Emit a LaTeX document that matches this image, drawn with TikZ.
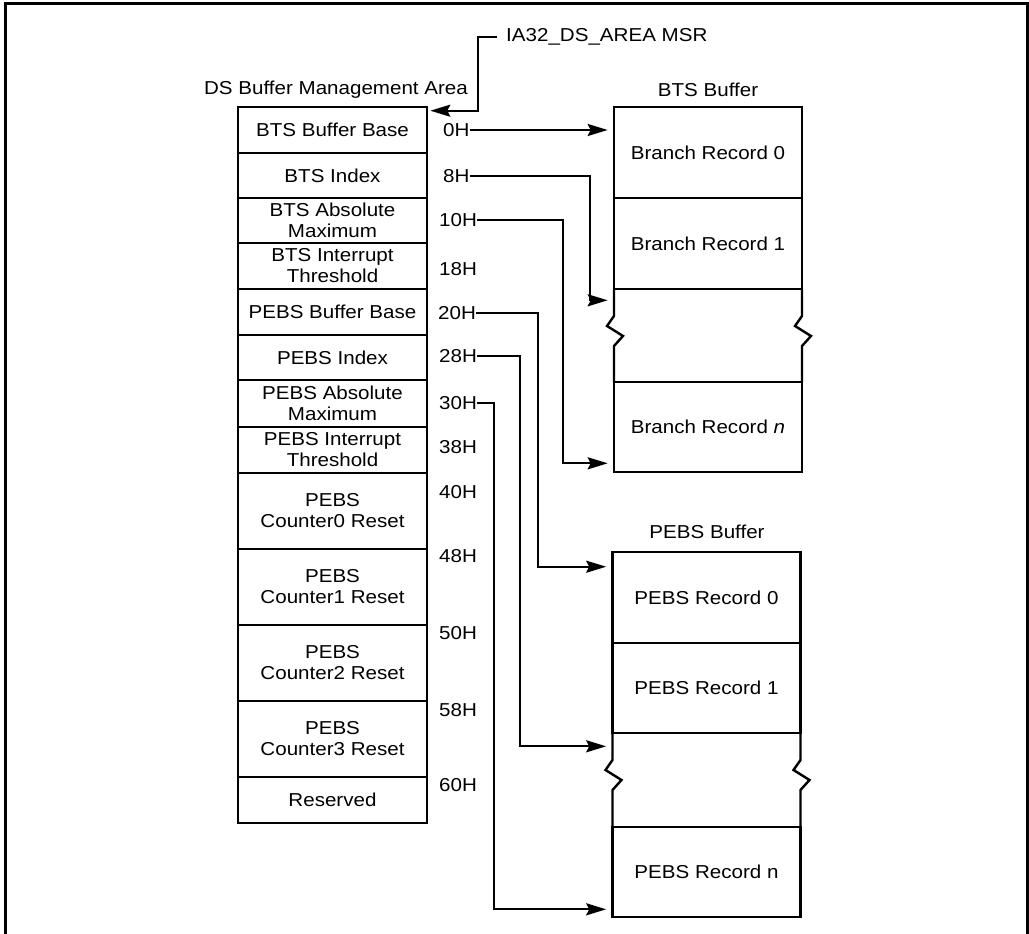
\documentclass[tikz,border=0pt]{standalone}
\usepackage{fontspec}
\setmainfont[FakeStretch=1.1]{Liberation Sans}
\usetikzlibrary{arrows.meta}
\newcommand{\brokenside}[3]{\draw[side] (#1,#2) -- ++(0,27) -- ++(-7,10) -- ++(16,10) -- ++(-9,10) -- (#1,#3);}

\begin{document}
\begin{tikzpicture}[x=1pt,y=-1pt,>={Stealth[length=20pt,width=12pt,inset=3pt]},
  every node/.style={font=\fontsize{18.7}{21}\selectfont}]
  \tikzset{cell/.style={draw,line width=2.6pt,minimum width=189pt,minimum height=#1,inner sep=1pt,align=center}}
  \tikzset{record/.style={draw,line width=2.6pt,minimum width=188pt,minimum height=#1}}
  \tikzset{offset/.style={anchor=west,inner sep=0pt}}
  \tikzset{link/.style={->,line width=2.3pt,shorten >=5pt}}
  \tikzset{side/.style={line width=2.4pt}}
  \useasboundingbox (0,0) rectangle (1029,934);
  \draw[line width=3pt] (5,934) -- (5,4) -- (1027,4) -- (1027,934);
  % management area
  \node (dstitle) at (336,90) {DS Buffer Management Area};
  \node[cell=46pt] (btsbase) at (332.5,130) {BTS Buffer Base};
  \node[cell=45pt] (btsindex) at (332.5,175.5) {BTS Index};
  \node[cell=45pt] (btsmax) at (332.5,220.5) {BTS Absolute\\Maximum};
  \node[cell=46pt] (btsthr) at (332.5,266) {BTS Interrupt\\Threshold};
  \node[cell=46pt] (pebsbase) at (332.5,312) {PEBS Buffer Base};
  \node[cell=45pt] (pebsindex) at (332.5,357.5) {PEBS Index};
  \node[cell=47pt] (pebsmax) at (332.5,403.5) {PEBS Absolute\\Maximum};
  \node[cell=46pt] (pebsthr) at (332.5,450) {PEBS Interrupt\\Threshold};
  \node[cell=76pt] (reset0) at (332.5,511) {PEBS\\Counter0 Reset};
  \node[cell=76pt] (reset1) at (332.5,587) {PEBS\\Counter1 Reset};
  \node[cell=76pt] (reset2) at (332.5,663) {PEBS\\Counter2 Reset};
  \node[cell=76pt] (reset3) at (332.5,739) {PEBS\\Counter3 Reset};
  \node[cell=46pt] (reserved) at (332.5,800) {Reserved};
  % offsets
  \node[offset] (o0) at (443,130) {0H};
  \node[offset] (o8) at (443,176) {8H};
  \node[offset] (o10) at (439,220) {10H};
  \node[offset] (o18) at (439,269) {18H};
  \node[offset] (o20) at (438,313) {20H};
  \node[offset] (o28) at (439,356) {28H};
  \node[offset] (o30) at (439,403) {30H};
  \node[offset] (o38) at (439,447) {38H};
  \node[offset] (o40) at (439,492) {40H};
  \node[offset] (o48) at (439,556) {48H};
  \node[offset] (o50) at (439,633) {50H};
  \node[offset] (o58) at (439,710) {58H};
  \node[offset] (o60) at (439,785) {60H};
  % msr
  \node[offset] (msr) at (506,37) {IA32\_DS\_AREA MSR};
  \coordinate (msrptr) at ([yshift=-5pt]btsbase.north east);
  \draw[link,shorten >=2pt] ([xshift=-9pt]msr.west) -| ([xshift=50pt]msrptr) -- (msrptr);
  % bts buffer
  \node (btstitle) at (708,90) {BTS Buffer};
  \node[record=91pt] (brec0) at (708,152.5) {Branch Record 0};
  \node[record=91pt] (brec1) at (708,243.5) {Branch Record 1};
  \node[record=90pt] (brecn) at (708,427) {Branch Record \textit{n}};
  \brokenside{614}{289}{382}
  \brokenside{802}{289}{382}
  % pebs buffer
  \node (pebstitle) at (707,532) {PEBS Buffer};
  \node[record=91pt] (prec0) at (706.5,597.5) {PEBS Record 0};
  \node[record=90pt] (prec1) at (706.5,688) {PEBS Record 1};
  \node[record=90pt] (precn) at (706.5,872) {PEBS Record n};
  \brokenside{612.5}{733}{827}
  \brokenside{800.5}{733}{827}
  % pointers
  \coordinate (btsgap) at ([yshift=-10pt]brec1.south west);
  \coordinate (btsend) at ([yshift=10pt]brecn.south west);
  \coordinate (pebstop) at ([yshift=-16pt]prec0.north west);
  \coordinate (pebsgap) at ([yshift=-12pt]prec1.south west);
  \coordinate (pebsend) at ([yshift=9pt]precn.south west);
  \draw[link] (o0.east) -- (o0.east -| brec0.west);
  \draw[link] (o8.east) -| ([xshift=-23pt]btsgap) -- (btsgap);
  \draw[link] (o10.east) -| ([xshift=-50pt]btsend) -- (btsend);
  \draw[link] (o20.east) -| ([xshift=-73pt]pebstop) -- (pebstop);
  \draw[link] (o28.east) -| ([xshift=-91pt]pebsgap) -- (pebsgap);
  \draw[link] (o30.east) -| ([xshift=-117pt]pebsend) -- (pebsend);
\end{tikzpicture}
\end{document}
